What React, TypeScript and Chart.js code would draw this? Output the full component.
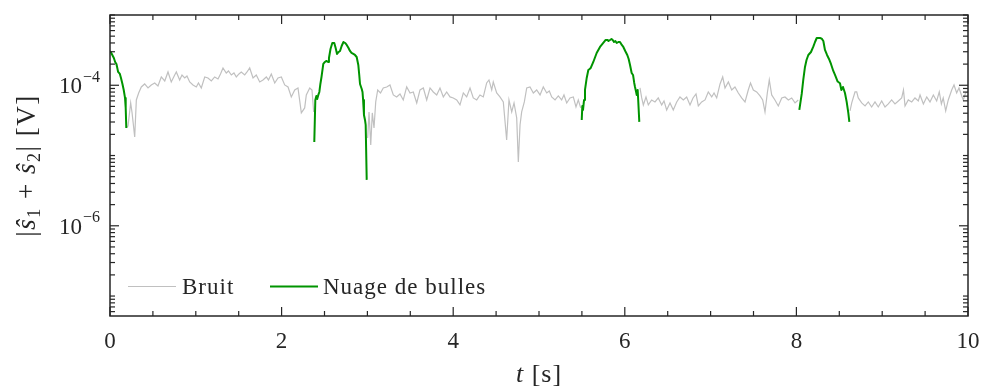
import React, { useEffect, useRef } from "react";
import { Chart, registerables } from "chart.js";

Chart.register(...registerables);

// ---------- axes ----------
const X_MIN = 0;
const X_MAX = 10;
const Y_MIN = 5.2e-8;
const Y_MAX = 1e-3;
const xTickLabels = [0, 2, 4, 6, 8, 10];
const xMinorStep = 0.5;
const yLabelExponents = [-4, -6];
const yMajorExponents = [-4, -6];
const legendLabels = ["Bruit", "Nuage de bulles"];

// ---------- "Bruit" (noise), [t (s), |s1+s2| (V)] ----------
const bruit1: [number, number][] = [
  [0.19, 2.47e-5], [0.21, 2.64e-5], [0.241, 5.6e-5], [0.256, 4.17e-5], [0.288, 1.84e-5], [0.307, 6.18e-5],
  [0.334, 7.77e-5], [0.365, 9.46e-5], [0.404, 1.043e-4], [0.443, 9.15e-5], [0.481, 1.01e-4], [0.521, 1.078e-4],
  [0.559, 9.77e-5], [0.598, 1.312e-4], [0.638, 1.151e-4], [0.676, 1.546e-4], [0.714, 1.114e-4], [0.754, 1.401e-4],
  [0.773, 1.546e-4], [0.812, 1.19e-4], [0.839, 1.401e-4], [0.871, 1.27e-4], [0.897, 1.356e-4], [0.929, 1.114e-4],
  [0.967, 1.01e-4], [1.006, 9.46e-5], [1.031, 1.078e-4], [1.064, 9.15e-5], [1.104, 1.312e-4], [1.142, 1.27e-4],
  [1.181, 1.151e-4], [1.22, 1.312e-4], [1.259, 1.229e-4], [1.288, 1.448e-4], [1.317, 1.762e-4], [1.355, 1.496e-4],
  [1.381, 1.598e-4], [1.414, 1.401e-4], [1.445, 1.496e-4], [1.472, 1.312e-4], [1.503, 1.448e-4], [1.53, 1.546e-4],
  [1.57, 1.401e-4], [1.597, 1.546e-4], [1.628, 1.762e-4], [1.667, 1.27e-4], [1.705, 1.401e-4], [1.745, 1.114e-4],
  [1.783, 1.19e-4], [1.822, 1.312e-4], [1.847, 1.19e-4], [1.88, 1.448e-4], [1.92, 1.078e-4], [1.958, 1.27e-4],
  [1.997, 1.312e-4], [2.036, 1.01e-4], [2.075, 9.46e-5], [2.113, 6.82e-5], [2.153, 8.57e-5], [2.191, 9.15e-5],
  [2.23, 4.04e-5], [2.269, 4.76e-5], [2.288, 7.28e-5], [2.328, 9.15e-5], [2.354, 8.57e-5], [2.374, 4.17e-5],
];

const bruit2: [number, number][] = [
  [3.003, 1.78e-5], [3.019, 4.17e-5], [3.039, 1.415e-5], [3.057, 4.04e-5], [3.077, 2.47e-5], [3.097, 5.79e-5],
  [3.12, 8.57e-5], [3.153, 7.77e-5], [3.185, 9.15e-5], [3.225, 9.46e-5], [3.263, 1.01e-4], [3.302, 7.28e-5],
  [3.341, 6.82e-5], [3.38, 7.52e-5], [3.418, 6.18e-5], [3.458, 9.46e-5], [3.497, 7.77e-5], [3.535, 8.03e-5],
  [3.575, 5.6e-5], [3.613, 8.57e-5], [3.652, 9.15e-5], [3.691, 6.18e-5], [3.73, 9.15e-5], [3.768, 8.03e-5],
  [3.808, 7.28e-5], [3.846, 9.15e-5], [3.885, 6.82e-5], [3.924, 8.03e-5], [3.963, 6.82e-5], [4.001, 6.6e-5],
  [4.041, 6.18e-5], [4.079, 5.25e-5], [4.118, 7.77e-5], [4.157, 6.82e-5], [4.196, 9.15e-5], [4.234, 6.6e-5],
  [4.274, 6.18e-5], [4.312, 7.28e-5], [4.351, 6.82e-5], [4.39, 1.078e-4], [4.417, 1.19e-4], [4.449, 8.57e-5],
  [4.467, 1.114e-4], [4.507, 7.77e-5], [4.545, 6.82e-5], [4.584, 5.79e-5], [4.623, 1.667e-5], [4.65, 6.18e-5],
  [4.682, 4.17e-5], [4.709, 5.6e-5], [4.74, 3.43e-5], [4.759, 8.11e-6], [4.779, 2.72e-5], [4.798, 4.17e-5],
  [4.829, 5.79e-5], [4.857, 9.15e-5], [4.895, 9.46e-5], [4.934, 7.77e-5], [4.973, 8.57e-5], [5.012, 7.28e-5],
  [5.05, 9.46e-5], [5.09, 7.77e-5], [5.12, 8.3e-5], [5.148, 6.82e-5], [5.187, 6.18e-5], [5.225, 7.04e-5],
  [5.264, 6.18e-5], [5.291, 7.28e-5], [5.323, 5.6e-5], [5.361, 6.6e-5], [5.4, 6.82e-5], [5.431, 4.91e-5],
  [5.458, 6.18e-5], [5.486, 4.76e-5],
];

const bruit3: [number, number][] = [
  [6.177, 9.15e-5], [6.197, 6.6e-5], [6.216, 5.25e-5], [6.247, 6.82e-5], [6.274, 5.25e-5], [6.313, 6.18e-5],
  [6.352, 5.79e-5], [6.39, 6.6e-5], [6.43, 5.25e-5], [6.457, 5.98e-5], [6.488, 4.45e-5], [6.527, 5.6e-5],
  [6.565, 4.45e-5], [6.605, 5.79e-5], [6.643, 6.82e-5], [6.682, 6.18e-5], [6.721, 6.82e-5], [6.76, 5.25e-5],
  [6.795, 6.6e-5], [6.83, 7.52e-5], [6.857, 5.08e-5], [6.896, 5.79e-5], [6.935, 6.18e-5], [6.973, 8.03e-5],
  [7.013, 6.82e-5], [7.04, 7.77e-5], [7.071, 6.6e-5], [7.11, 1.043e-4], [7.141, 1.312e-4], [7.168, 9.15e-5],
  [7.207, 1.114e-4], [7.246, 8.57e-5], [7.284, 9.46e-5], [7.323, 7.77e-5], [7.362, 6.6e-5], [7.401, 5.79e-5],
  [7.439, 8.57e-5], [7.465, 1.078e-4], [7.498, 8.57e-5], [7.537, 8.03e-5], [7.576, 7.04e-5], [7.607, 6.18e-5],
  [7.634, 4.17e-5], [7.661, 7.77e-5], [7.684, 1.19e-4], [7.712, 7.28e-5], [7.75, 6.18e-5], [7.789, 5.08e-5],
  [7.829, 6.6e-5], [7.867, 6.82e-5], [7.906, 6.18e-5], [7.945, 6.6e-5], [7.984, 5.6e-5], [8.022, 6.18e-5],
];

const bruit4: [number, number][] = [
  [8.625, 4.31e-5], [8.645, 5.6e-5], [8.683, 8.03e-5], [8.703, 8.03e-5], [8.721, 6.6e-5], [8.761, 5.6e-5],
  [8.8, 5.08e-5], [8.838, 5.79e-5], [8.877, 4.91e-5], [8.916, 5.79e-5], [8.954, 4.91e-5], [8.994, 5.98e-5],
  [9.033, 4.91e-5], [9.071, 5.42e-5], [9.11, 6.18e-5], [9.149, 5.42e-5], [9.188, 5.98e-5], [9.227, 6.6e-5],
  [9.248, 8.57e-5], [9.266, 5.08e-5], [9.304, 6.18e-5], [9.344, 5.79e-5], [9.382, 6.6e-5], [9.421, 5.98e-5],
  [9.441, 7.28e-5], [9.48, 5.42e-5], [9.519, 6.82e-5], [9.557, 5.79e-5], [9.596, 7.28e-5], [9.635, 5.98e-5],
  [9.665, 8.03e-5], [9.69, 5.42e-5], [9.711, 6.6e-5], [9.74, 4.31e-5], [9.77, 6.18e-5], [9.81, 8.57e-5],
  [9.837, 1.01e-4], [9.868, 7.77e-5], [9.895, 9.15e-5], [9.927, 7.04e-5], [9.945, 6.18e-5], [9.971, 7.77e-5],
  [10.0, 8.03e-5],
];

// ---------- "Nuage de bulles" (bubble cloud), [t (s), |s1+s2| (V)] ----------
const nuage1: [number, number][] = [
  [0.0, 3.075e-4], [0.015, 2.88e-4], [0.045, 2.445e-4], [0.06, 2.145e-4], [0.075, 2.009e-4], [0.095, 1.546e-4],
  [0.115, 1.448e-4], [0.128, 1.27e-4], [0.145, 1.043e-4], [0.16, 8.57e-5], [0.175, 6.6e-5], [0.183, 4.76e-5],
  [0.19, 2.47e-5],
];

const nuage2: [number, number][] = [
  [2.381, 1.561e-5], [2.393, 6.18e-5], [2.405, 7.04e-5], [2.415, 6.38e-5], [2.428, 7.28e-5], [2.44, 8.03e-5],
  [2.452, 1.043e-4], [2.465, 1.312e-4], [2.486, 2.009e-4], [2.505, 2.145e-4], [2.52, 2.217e-4], [2.541, 2.145e-4],
  [2.552, 2.445e-4], [2.57, 3.284e-4], [2.591, 3.997e-4], [2.614, 3.997e-4], [2.63, 3.393e-4], [2.646, 2.788e-4],
  [2.665, 2.976e-4], [2.681, 3.075e-4], [2.7, 3.622e-4], [2.721, 4.13e-4], [2.74, 3.997e-4], [2.759, 3.744e-4],
  [2.78, 3.393e-4], [2.797, 3.075e-4], [2.815, 2.88e-4], [2.836, 2.788e-4], [2.855, 2.698e-4], [2.875, 2.527e-4],
  [2.894, 1.945e-4], [2.905, 1.401e-4], [2.914, 1.043e-4], [2.934, 8.86e-5], [2.943, 8.03e-5], [2.95, 6.18e-5],
  [2.96, 3.78e-5], [2.972, 3.21e-5], [2.98, 2.72e-5], [2.992, 4.5e-6],
];

const nuage3: [number, number][] = [
  [5.498, 3.21e-5], [5.505, 5.08e-5], [5.513, 4.45e-5], [5.525, 6.18e-5], [5.536, 8.57e-5], [5.556, 1.27e-4],
  [5.575, 1.651e-4], [5.59, 1.706e-4], [5.603, 1.762e-4], [5.633, 2.145e-4], [5.672, 2.88e-4], [5.711, 3.506e-4],
  [5.749, 3.997e-4], [5.777, 4.41e-4], [5.8, 4.41e-4], [5.81, 4.268e-4], [5.828, 4.41e-4], [5.845, 4.557e-4],
  [5.859, 4.41e-4], [5.874, 4.13e-4], [5.89, 4.268e-4], [5.906, 3.997e-4], [5.925, 4.13e-4], [5.944, 4.13e-4],
  [5.965, 3.744e-4], [5.983, 3.506e-4], [6.005, 3.075e-4], [6.029, 2.698e-4], [6.045, 2.366e-4], [6.061, 1.945e-4],
  [6.08, 1.496e-4], [6.096, 1.401e-4], [6.11, 1.078e-4], [6.119, 9.46e-5], [6.132, 8.03e-5], [6.139, 7.28e-5],
  [6.15, 8.57e-5], [6.158, 5.6e-5], [6.169, 3.01e-5],
];

const nuage4: [number, number][] = [
  [8.034, 4.46e-5], [8.062, 7.52e-5], [8.08, 1.19e-4], [8.1, 1.821e-4], [8.118, 2.29e-4], [8.139, 2.698e-4],
  [8.17, 2.976e-4], [8.197, 3.54e-4], [8.217, 4.13e-4], [8.237, 4.708e-4], [8.275, 4.708e-4], [8.295, 4.6e-4],
  [8.314, 4.268e-4], [8.333, 3.178e-4], [8.357, 2.698e-4], [8.38, 2.366e-4], [8.403, 2.009e-4], [8.43, 1.598e-4],
  [8.45, 1.401e-4], [8.481, 1.13e-4], [8.508, 1.07e-4], [8.524, 8.57e-5], [8.543, 9.46e-5], [8.566, 7.77e-5],
  [8.586, 5.79e-5], [8.605, 4.04e-5], [8.617, 3.01e-5],
];

const bruitSegments = [bruit1, bruit2, bruit3, bruit4];
const nuageSegments = [nuage1, nuage2, nuage3, nuage4];

// ---------- styles ----------
const AXIS = "#262626";
const GREY = "rgb(192,192,192)";
const GREEN = "#009400";
const SERIF = '"Liberation Serif", "Times New Roman", serif';

function joinSegments(segs: [number, number][][]) {
  const out: { x: number; y: number | null }[] = [];
  segs.forEach((seg, i) => {
    if (i > 0) out.push({ x: seg[0][0] - 0.001, y: null });
    seg.forEach(([x, y]) => out.push({ x, y }));
  });
  return out;
}

const decorPlugin = {
  id: "decor",
  afterDatasetsDraw(chart: any) {
    const { ctx, chartArea: a, scales } = chart;
    const xs = scales.x;
    const ys = scales.y;
    ctx.save();
    const line = (x1: number, y1: number, x2: number, y2: number) => {
      ctx.beginPath();
      ctx.moveTo(x1, y1);
      ctx.lineTo(x2, y2);
      ctx.stroke();
    };

    // box
    ctx.strokeStyle = AXIS;
    ctx.lineWidth = 1.5;
    ctx.strokeRect(a.left, a.top, a.right - a.left, a.bottom - a.top);

    // x ticks (inside, mirrored on top)
    ctx.lineWidth = 1.2;
    const nX = Math.round((X_MAX - X_MIN) / xMinorStep);
    for (let i = 0; i <= nX; i++) {
      const t = X_MIN + i * xMinorStep;
      const px = xs.getPixelForValue(t);
      const len = xTickLabels.includes(t) ? 9 : 5;
      line(px, a.bottom, px, a.bottom - len);
      line(px, a.top, px, a.top + len);
    }
    // y ticks (log, inside, mirrored on right)
    for (let n = -8; n <= -3; n++) {
      for (let k = 1; k <= 9; k++) {
        const v = k * Math.pow(10, n);
        if (v < Y_MIN || v > Y_MAX * 1.0001) continue;
        const py = ys.getPixelForValue(v);
        const len = k === 1 && yMajorExponents.includes(n) ? 9 : 5;
        line(a.left, py, a.left + len, py);
        line(a.right, py, a.right - len, py);
      }
    }

    // x tick labels
    ctx.fillStyle = AXIS;
    ctx.font = `23px ${SERIF}`;
    ctx.textAlign = "center";
    ctx.textBaseline = "alphabetic";
    xTickLabels.forEach((t) => {
      ctx.fillText(String(t), xs.getPixelForValue(t), a.bottom + 32);
    });

    // y tick labels 10^e
    yLabelExponents.forEach((e) => {
      const py = ys.getPixelForValue(Math.pow(10, e));
      const sup = "\u2212" + Math.abs(e);
      ctx.font = `16px ${SERIF}`;
      ctx.textAlign = "left";
      const supW = ctx.measureText(sup).width;
      const right = a.left - 10;
      ctx.fillText(sup, right - supW, py - 3.5);
      ctx.font = `23px ${SERIF}`;
      ctx.textAlign = "right";
      ctx.fillText("10", right - supW - 1, py + 7.8);
    });

    // legend (inside, lower left)
    const ly = a.bottom - 29.5;
    ctx.font = `23px ${SERIF}`;
    ctx.textAlign = "left";
    (ctx as any).letterSpacing = "1px";
    ctx.strokeStyle = GREY;
    ctx.lineWidth = 1.2;
    line(a.left + 18, ly, a.left + 66, ly);
    ctx.fillText(legendLabels[0], a.left + 72, ly + 7);
    ctx.strokeStyle = GREEN;
    ctx.lineWidth = 2;
    line(a.left + 160, ly, a.left + 208, ly);
    ctx.fillText(legendLabels[1], a.left + 213, ly + 7);

    // x axis title: t [s]
    const cx = (a.left + a.right) / 2;
    const italic = `italic 26px ${SERIF}`;
    const roman = `26px ${SERIF}`;
    ctx.font = italic;
    const wT = ctx.measureText("t").width;
    ctx.font = roman;
    const wS = ctx.measureText(" [s]").width;
    let x0 = cx - (wT + wS) / 2;
    ctx.font = italic;
    ctx.fillText("t", x0, a.bottom + 66);
    ctx.font = roman;
    ctx.fillText(" [s]", x0 + wT, a.bottom + 66);

    // y axis title: |ŝ1 + ŝ2| [V]
    (ctx as any).letterSpacing = "1.5px";
    const yItalic = `italic 27px ${SERIF}`;
    const yRoman = `27px ${SERIF}`;
    const ySub = `18px ${SERIF}`;
    const pieces: { s: string; f: string; dy: number }[] = [
      { s: "|", f: yRoman, dy: 0 },
      { s: "\u015D", f: yItalic, dy: 0 },
      { s: "1", f: ySub, dy: 5 },
      { s: " + ", f: yRoman, dy: 0 },
      { s: "\u015D", f: yItalic, dy: 0 },
      { s: "2", f: ySub, dy: 5 },
      { s: "|", f: yRoman, dy: 0 },
      { s: " [V]", f: yRoman, dy: 0 },
    ];
    let total = 0;
    const widths = pieces.map((p) => {
      ctx.font = p.f;
      const w = ctx.measureText(p.s).width;
      total += w;
      return w;
    });
    ctx.translate(35, (a.top + a.bottom) / 2);
    ctx.rotate(-Math.PI / 2);
    let px = -total / 2;
    pieces.forEach((p, i) => {
      ctx.font = p.f;
      ctx.fillText(p.s, px, p.dy);
      px += widths[i];
    });
    ctx.restore();
  },
};

export default function App() {
  const ref = useRef<HTMLCanvasElement | null>(null);
  useEffect(() => {
    if (!ref.current) return;
    const chart = new Chart(ref.current, {
      type: "line",
      data: {
        datasets: [
          {
            label: legendLabels[0],
            data: joinSegments(bruitSegments) as any,
            borderColor: GREY,
            borderWidth: 1.2,
            pointRadius: 0,
            tension: 0,
            spanGaps: false,
            order: 2,
          },
          {
            label: legendLabels[1],
            data: joinSegments(nuageSegments) as any,
            borderColor: GREEN,
            borderWidth: 2,
            pointRadius: 0,
            tension: 0,
            spanGaps: false,
            borderJoinStyle: "round",
            order: 1,
          },
        ],
      },
      options: {
        responsive: false,
        animation: false,
        devicePixelRatio: 1,
        layout: { padding: { left: 0, top: 15, right: 16, bottom: 0 } },
        plugins: { legend: { display: false }, tooltip: { enabled: false } },
        scales: {
          x: {
            type: "linear",
            min: X_MIN,
            max: X_MAX,
            grid: { display: false },
            border: { display: false },
            ticks: { display: false },
            afterFit: (s: any) => {
              s.height = 73;
            },
          },
          y: {
            type: "logarithmic",
            min: Y_MIN,
            max: Y_MAX,
            grid: { display: false },
            border: { display: false },
            ticks: { display: false },
            afterFit: (s: any) => {
              s.width = 110;
            },
          },
        },
      },
      plugins: [decorPlugin],
    });
    return () => chart.destroy();
  }, []);
  return (
    <div style={{ position: "absolute", left: 0, top: 0, width: 984, height: 389, background: "#fff" }}>
      <canvas ref={ref} width={984} height={389} />
    </div>
  );
}
